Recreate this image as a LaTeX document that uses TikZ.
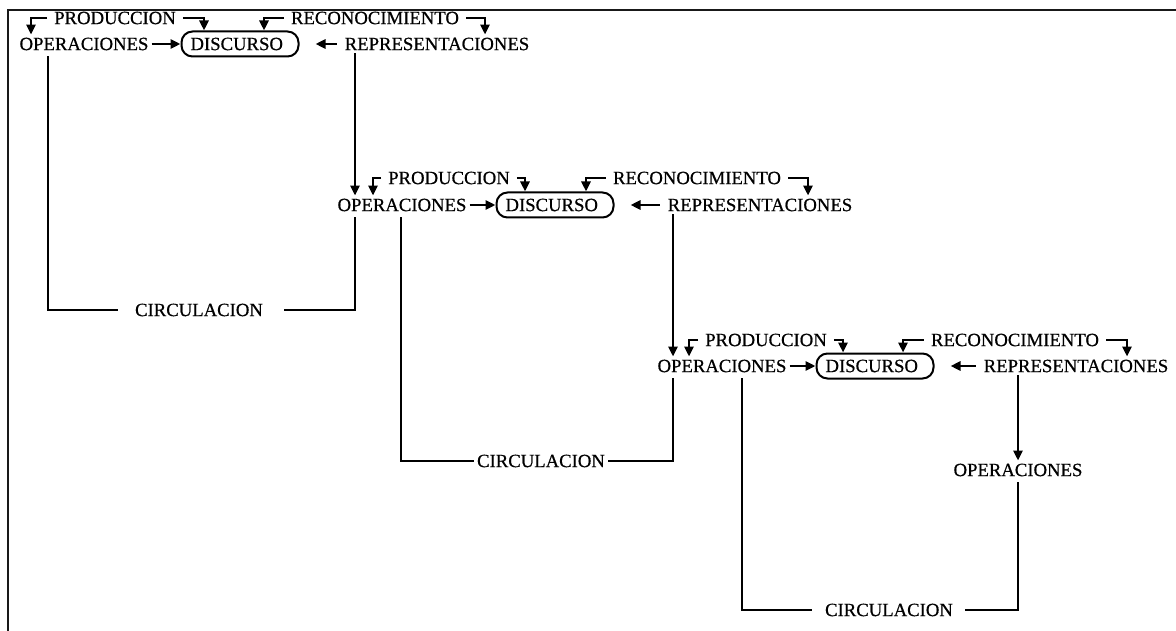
\documentclass[tikz,border=0pt]{standalone}
\usepackage{fontspec}
\setmainfont{Liberation Serif}[RawFeature={embolden=0.6}]
\usetikzlibrary{arrows.meta,calc}
\begin{document}
\begin{tikzpicture}[x=1pt,y=-1pt,
  lbl/.style={inner sep=3pt, font=\fontsize{18.7}{22}\selectfont},
  brk/.style={lbl, inner xsep=7pt},
  disc/.style={lbl, draw, line width=2pt, rounded corners=11pt, text width=99pt, align=left, inner xsep=9pt, inner ysep=4pt, minimum height=25pt},
  conn/.style={line width=2.9pt},
  arr/.style={conn, -{Triangle[length=10pt,width=9pt]}},
  back/.style={arr, shorten >=16pt, shorten <=5pt},
]
\useasboundingbox (0,0) rectangle (1176,631);
% frame
\draw[line width=2.2pt, black!90] (8,631) -- (8,10) -- (1176,10);

% vertical line positions
\coordinate (v0) at (48,0);
\coordinate (v1) at (355,0);
\coordinate (v2) at (401,0);
\coordinate (v3) at (673,0);
\coordinate (v4) at (742,0);

% block 1
\node[lbl]  (o1) at (84,44)  {OPERACIONES};
\node[disc] (d1) at (240,44) {DISCURSO};
\node[lbl]  (r1) at (437,44) {REPRESENTACIONES};
\node[brk]  (p1) at (115,18) {PRODUCCION};
\node[brk]  (k1) at (375,18) {RECONOCIMIENTO};
% block 2
\node[lbl]  (o2) at (402,205) {OPERACIONES};
\node[disc] (d2) at (555,205) {DISCURSO};
\node[lbl]  (r2) at (760,205) {REPRESENTACIONES};
\node[brk]  (p2) at (449,178) {PRODUCCION};
\node[brk]  (k2) at (697,178) {RECONOCIMIENTO};
% block 3
\node[lbl]  (o3) at (722,366) {OPERACIONES};
\node[disc] (d3) at (875,366) {DISCURSO};
\node[lbl]  (r3) at (1076,366) {REPRESENTACIONES};
\node[brk]  (p3) at (766,340) {PRODUCCION};
\node[brk]  (k3) at (1015,340) {RECONOCIMIENTO};
% last
\node[lbl]  (o4) at (1018,470) {OPERACIONES};
% circulation
\node[lbl]  (c1) at (199,310) {CIRCULACION};
\node[lbl]  (c2) at (541,461) {CIRCULACION};
\node[lbl]  (c3) at (889,610) {CIRCULACION};

% block 1 arrows
\draw[arr] (o1) -- (d1);
\draw[back] (r1) -- (d1);
\draw[arr] (p1.west) -| ([xshift=-53pt]o1.north);
\draw[arr] (p1.east) -| ([xshift=-36pt]d1.north);
\draw[arr] (k1.west) -| ([xshift=24pt]d1.north);
\draw[arr] (k1.east) -| ([xshift=48pt]r1.north);
% block 2 arrows
\draw[arr] (o2) -- (d2);
\draw[back] (r2) -- (d2);
\draw[arr] (p2.west) -| ([xshift=-29pt]o2.north);
\draw[arr] (p2.east) -| ([xshift=-30pt]d2.north);
\draw[arr] (k2.west) -| ([xshift=31pt]d2.north);
\draw[arr] (k2.east) -| ([xshift=48pt]r2.north);
% block 3 arrows
\draw[arr] (o3) -- (d3);
\draw[back] (r3) -- (d3);
\draw[arr] (p3.west) -| ([xshift=-33pt]o3.north);
\draw[arr] (p3.east) -| ([xshift=-32pt]d3.north);
\draw[arr] (k3.west) -| ([xshift=28pt]d3.north);
\draw[arr] (k3.east) -| ([xshift=51pt]r3.north);

% links between blocks
\draw[arr] (r1.south -| v1) -- (o2.north -| v1);
\draw[arr] (r2.south -| v3) -- (o3.north -| v3);
\draw[arr] (r3.south -| o4.north) -- (o4.north);

% circulation loops
\draw[conn, shorten <=3pt, shorten >=14pt] (o1.south -| v0) |- (c1.west);
\draw[conn, shorten <=3pt, shorten >=18pt] (o2.south -| v1) |- (c1.east);
\draw[conn, shorten <=3pt] (o2.south -| v2) |- (c2.west);
\draw[conn, shorten <=3pt] (o3.south -| v3) |- (c2.east);
\draw[conn, shorten <=3pt, shorten >=10pt] (o3.south -| v4) |- (c3.west);
\draw[conn, shorten <=3pt, shorten >=9pt] (o4.south) |- (c3.east);
\end{tikzpicture}
\end{document}
